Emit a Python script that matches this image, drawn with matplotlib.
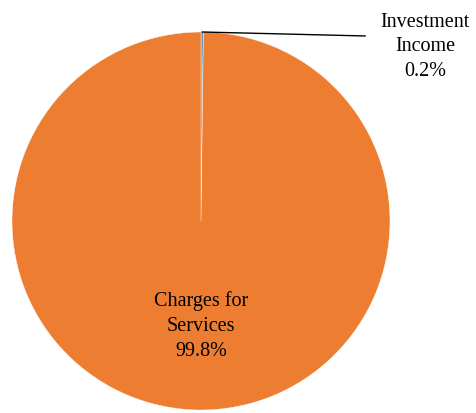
import numpy as np
import matplotlib.pyplot as plt

labels = ["Investment\nIncome", "Charges for\nServices"]
shares = [0.2, 99.8]
colors = ["#5B9BD5", "#ED7D31"]

plt.rcParams["font.family"] = ["Liberation Serif", "DejaVu Serif"]

W, H = 476, 414
fig = plt.figure(figsize=(W / 100, H / 100), dpi=100)
cx, cy, r = 201, 222, 189
ax = fig.add_axes([(cx - r) / W, (H - cy - r) / H, 2 * r / W, 2 * r / H])

wedges, _ = ax.pie(shares, colors=colors, startangle=90, counterclock=False,
                   radius=1, wedgeprops=dict(edgecolor="white", linewidth=0.3))
# pie() resets the limits, so set them afterwards
ax.set_xlim(-1, 1)
ax.set_ylim(-1, 1)
ax.axis("off")

# small slice: label outside with a leader line
w = wedges[0]
mid = np.deg2rad((w.theta1 + w.theta2) / 2)
ax.plot([np.cos(mid), 0.868], [np.sin(mid), 0.979], color="black", lw=1,
        clip_on=False)
ax.text(1.185, 0.926, f"{labels[0]}\n{shares[0]:.1f}%", ha="center", va="center",
        fontsize=14.5, linespacing=1.4)

# big slice: label inside
ax.text(0.0, -0.55, f"{labels[1]}\n{shares[1]:.1f}%", ha="center", va="center",
        fontsize=14.5, linespacing=1.4)

fig.savefig("out.png", dpi=100)
